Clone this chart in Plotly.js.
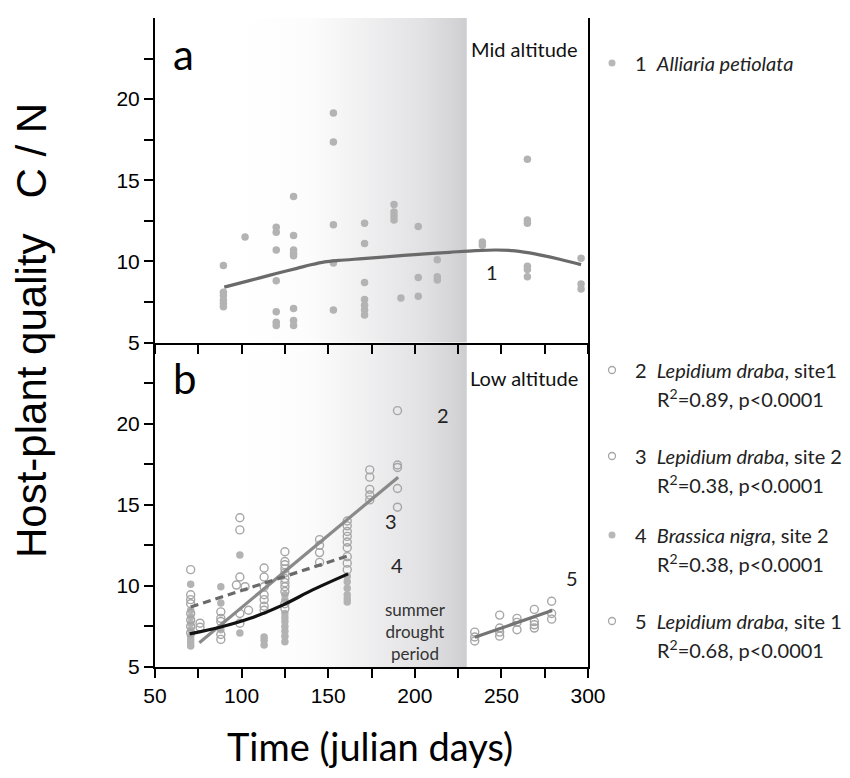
<!DOCTYPE html>
<html><head><meta charset="utf-8">
<script src="https://cdn.plot.ly/plotly-3.0.1.min.js"></script>
<style>html,body{margin:0;padding:0;background:#fff}#chart{width:850px;height:778px}</style>
</head><body><div id="chart"></div>
<script>
// ---------- data ----------
const droughtStart = 100, droughtEnd = 230;

// 1 Alliaria petiolata (mid altitude)
const alliariaX = [89.5,89.5,89.5,89.5,89.5,89.5, 102, 120,120,120,120,120,120,120, 130,130,130,130,130,130,130,130, 153,153,153,153,153, 171,171,171,171,171,171,171, 188,188,188,188, 192, 202,202,202, 213,213,213, 239,239, 265,265,265,265,265,265, 296,296,296];
const alliariaY = [9.75,8.1,7.9,7.6,7.4,7.2, 11.5, 12.1,11.8,10.7,8.8,6.9,6.25,6.05, 14.0,11.6,10.7,10.5,10.35,7.1,6.35,6.05, 19.15,17.35,12.25,9.9,7.0, 12.35,11.1,8.7,7.65,7.3,7.0,6.7, 13.5,13.05,12.8,12.55, 7.75, 12.15,9.0,7.85, 10.1,9.05,8.85, 11.2,11.0, 16.3,12.55,12.35,9.7,9.5,9.05, 10.2,8.6,8.3];
const fit1X = [90,100,110,120,132,140,148,156,170,185,200,220,235,247,258,270,283,296];
const fit1Y = [8.41,8.69,8.97,9.25,9.57,9.79,9.97,10.06,10.17,10.29,10.42,10.56,10.66,10.7,10.65,10.45,10.15,9.8];

// 2 Lepidium draba, site1
const lep1X = [76,76, 88,88, 99,99,99, 104, 113,113,113, 125,125,125,125, 145,145,145,145, 161,161,161,161,161, 174,174,174,174,174, 190,190,190,190,190];
const lep1Y = [7.7,7.45, 8.4,8.0, 14.2,13.45,10.55, 8.5, 11.1,10.55,9.95, 12.1,11.5,11.3,11.05, 12.85,12.5,12.05,11.45, 14.0,13.7,13.35,13.05,12.7, 17.15,16.7,15.95,15.6,15.3, 20.8,17.45,17.3,16.0,14.85];
const fit2X = [75.6, 190.4];
const fit2Y = [6.5, 16.7];

// 3 Lepidium draba, site 2
const lep2X = [70.6,70.6,70.6,70.6,70.6,70.6,70.6,70.6, 88,88,88, 97,102,99,99, 113,113,113,113, 125,125,125,125,125,125,125, 161,161,161,161];
const lep2Y = [11.0,9.45,9.15,8.9,8.3,7.9,7.5,7.1, 7.8,7.0,6.7, 10.05,9.95,8.3,7.7, 9.45,9.15,8.75,8.5, 10.8,10.45,10.2,9.95,9.65,8.9,8.6, 12.35,11.8,11.4,11.0];
const fit3X = [70.6, 161.5];
const fit3Y = [8.7, 11.85];

// 4 Brassica nigra, site 2
const brassX = [70.6,70.6,70.6,70.6,70.6,70.6,70.6,70.6,70.6, 88,88,88, 99,99, 113,113,113, 125,125,125,125,125,125,125,125,125, 161,161,161,161,161,161];
const brassY = [10.1,8.5,8.1,7.7,7.3,6.9,6.7,6.5,6.3, 9.95,8.95,7.3, 11.9,7.1, 6.85,6.65,6.35, 9.45,9.15,8.3,8.05,7.8,7.5,7.2,6.9,6.55, 10.6,10.25,9.85,9.45,9.2,9.0];
const fit4X = [70, 87.5, 105, 124, 141, 161.5];
const fit4Y = [7.04, 7.45, 8.0, 8.83, 9.75, 10.74];

// 5 Lepidium draba, site 1 (after drought)
const lep5X = [234.6,234.6,234.6, 249,249,249,249, 259,259,259, 269,269,269,269, 279,279,279];
const lep5Y = [7.15,6.85,6.6, 8.2,7.4,7.15,6.9, 8.0,7.75,7.3, 8.55,7.8,7.6,7.4, 9.05,8.3,7.95];
const fit5X = [234.6, 279.3];
const fit5Y = [6.83, 8.48];

const xTickVals = [50,100,150,200,250,300];
const xMinorTicks = [75,125,175,225,275];
const yTickVals = [5,10,15,20];
const yMinorTicks = [7.5,12.5,17.5,22.5];

// ---------- layout helpers ----------
const W = 850, H = 778, L = 155, R = 262, T = 18, B = 111;
const PW = W - L - R, PH = H - T - B;
const px = X => (X - L) / PW;
const py = Y => (H - B - Y) / PH;

const myriad = 'Lato, "Open Sans", sans-serif';
const helv = '"Liberation Sans", Arial, Helvetica, sans-serif';
const fillGray = '#b3b3b3', openGray = '#a6a6a6';

function shade(xa, ya) {
  return {type:'scatter', x:[droughtStart, droughtEnd, droughtEnd, droughtStart, droughtStart], y:[5,5,25,25,5],
    xaxis:xa, yaxis:ya, mode:'none', fill:'toself', fillcolor:'rgba(220,220,222,0.8)',
    fillgradient:{type:'horizontal', start:droughtStart, stop:droughtEnd,
      colorscale:[[0,'rgb(255,255,255)'],[0.3,'rgb(252,252,252)'],[0.55,'rgb(240,240,241)'],[0.8,'rgb(226,226,228)'],[0.95,'rgb(212,212,214)'],[1,'rgb(204,205,208)']]},
    hoverinfo:'skip', showlegend:false};
}
function pts(x, y, xa, ya, open, name) {
  return {type:'scatter', mode:'markers', x, y, xaxis:xa, yaxis:ya, name, showlegend:false, cliponaxis:false,
    marker: open ? {symbol:'circle-open', size:8, color:openGray, line:{width:1.4, color:openGray}}
                 : {symbol:'circle', size:7.5, color:fillGray, line:{width:0}}};
}
function fit(x, y, xa, ya, color, dash, shape) {
  return {type:'scatter', mode:'lines', x, y, xaxis:xa, yaxis:ya, showlegend:false, hoverinfo:'skip',
    line:{color, width:3.2, dash:dash||'solid', shape:shape||'linear', smoothing:0.9}};
}

const data = [
  shade('x2','y2'), shade('x','y'),
  pts(alliariaX, alliariaY, 'x2','y2', false, 'Alliaria petiolata'),
  pts(brassX, brassY, 'x','y', false, 'Brassica nigra, site 2'),
  pts(lep2X, lep2Y, 'x','y', true, 'Lepidium draba, site 2'),
  pts(lep1X, lep1Y, 'x','y', true, 'Lepidium draba, site1'),
  pts(lep5X, lep5Y, 'x','y', true, 'Lepidium draba, site 1'),
  fit(fit1X, fit1Y, 'x2','y2', '#6a6a6a', 'solid', 'spline'),
  fit(fit2X, fit2Y, 'x','y', '#8a8a8a'),
  fit(fit3X, fit3Y, 'x','y', '#6a6a6a', '8px,5px'),
  fit(fit4X, fit4Y, 'x','y', '#111111', 'solid', 'spline'),
  fit(fit5X, fit5Y, 'x','y', '#747474'),
];

const axCommon = {showgrid:false, zeroline:false, showline:true, linecolor:'#000', linewidth:2,
  ticks:'outside', ticklen:9, tickwidth:2, tickcolor:'#000', tickfont:{family:helv, size:21, color:'#000'}};
const xMinor = {tickmode:'array', tickvals:xMinorTicks, ticks:'outside', ticklen:9, tickwidth:2, tickcolor:'#000', showgrid:false};
const yMinor = {tickmode:'array', tickvals:yMinorTicks, ticks:'outside', ticklen:9, tickwidth:2, tickcolor:'#000', showgrid:false};

const layout = {
  width:W, height:H, margin:{l:L, r:R, t:T, b:B, pad:0},
  paper_bgcolor:'#fff', plot_bgcolor:'#fff', showlegend:false,
  xaxis: Object.assign({}, axCommon, {domain:[0,1], anchor:'y', range:[50,300], tickmode:'array', tickvals:xTickVals, minor:xMinor}),
  yaxis: Object.assign({}, axCommon, {domain:[0,0.5], anchor:'x', range:[5,25], tickmode:'array', tickvals:yTickVals, minor:yMinor, mirror:true}),
  xaxis2: Object.assign({}, axCommon, {domain:[0,1], anchor:'y2', matches:'x', range:[50,300], tickmode:'array', tickvals:xTickVals, minor:xMinor, showticklabels:false}),
  yaxis2: Object.assign({}, axCommon, {domain:[0.5,1], anchor:'x2', range:[5,25], tickmode:'array', tickvals:yTickVals, minor:yMinor, mirror:true}),
  annotations: [],
  shapes: []
};

const A = layout.annotations;
function txt(o) { A.push(Object.assign({showarrow:false, xanchor:'center', yanchor:'middle'}, o)); }

txt({text:'Host-plant quality\u00a0\u00a0\u00a0C / N', xref:'paper', yref:'paper', x:px(31), y:py(331), textangle:-90, font:{family:helv, size:42, color:'#000'}});
txt({text:'Time (julian days)', xref:'paper', yref:'paper', x:px(370), y:py(746), font:{family:myriad, size:38, color:'#000'}});
txt({text:'a', xref:'x2', yref:'y2', x:66.7, y:22.8, font:{family:myriad, size:42, color:'#000'}});
txt({text:'b', xref:'x', yref:'y', x:67.3, y:22.8, font:{family:myriad, size:42, color:'#000'}});
txt({text:'Mid altitude', xref:'x2', yref:'y2', x:295.2, y:23.09, xanchor:'right', font:{family:myriad, size:20, color:'#111'}});
txt({text:'Low altitude', xref:'x', yref:'y', x:295.2, y:22.82, xanchor:'right', font:{family:myriad, size:20, color:'#111'}});
const numFont = {family:myriad, size:20, color:'#222'};
txt({text:'1', xref:'x2', yref:'y2', x:244.6, y:9.35, font:numFont});
txt({text:'2', xref:'x', yref:'y', x:216.4, y:20.52, font:numFont});
txt({text:'3', xref:'x', yref:'y', x:186.2, y:14.02, font:numFont});
txt({text:'4', xref:'x', yref:'y', x:189.5, y:11.27, font:numFont});
txt({text:'5', xref:'x', yref:'y', x:290.8, y:10.48, font:numFont});
txt({text:'summer<br>drought<br>period', xref:'x', yref:'y', x:200.6, y:7.16, font:{family:myriad, size:17, color:'#333'}});

// legend (text + marker glyphs)
const legFont = {family:myriad, size:20, color:'#222'};
const legend = [
  {Y:63, open:false, l1:'1\u00a0\u00a0<i>Alliaria petiolata</i>', l2:null},
  {Y:370, open:true, l1:'2\u00a0\u00a0<i>Lepidium draba</i>, site1', l2:'R<sup>2</sup>=0.89, p&lt;0.0001'},
  {Y:456, open:true, l1:'3\u00a0\u00a0<i>Lepidium draba</i>, site 2', l2:'R<sup>2</sup>=0.38, p&lt;0.0001'},
  {Y:535, open:false, l1:'4\u00a0\u00a0<i>Brassica nigra</i>, site 2', l2:'R<sup>2</sup>=0.38, p&lt;0.0001'},
  {Y:621, open:true, l1:'5\u00a0\u00a0<i>Lepidium draba,</i> site 1', l2:'R<sup>2</sup>=0.68, p&lt;0.0001'},
];
legend.forEach(e => {
  txt({text:e.l1, xref:'paper', yref:'paper', x:px(633), y:py(e.Y), xanchor:'left', font:legFont});
  if (e.l2) txt({text:e.l2, xref:'paper', yref:'paper', x:px(655), y:py(e.Y+28), xanchor:'left', font:legFont});
  layout.shapes.push({type:'circle', xref:'paper', yref:'paper', xsizemode:'pixel', ysizemode:'pixel',
    xanchor:px(612), yanchor:py(e.Y), x0:-3.5, x1:3.5, y0:-3.5, y1:3.5,
    fillcolor: e.open ? '#fff' : '#b8b8b8', line:{color: e.open ? '#a6a6a6' : '#b8b8b8', width: e.open ? 1.3 : 0}});
});

Plotly.newPlot('chart', data, layout, {staticPlot:true, displayModeBar:false});
</script>
</body></html>
